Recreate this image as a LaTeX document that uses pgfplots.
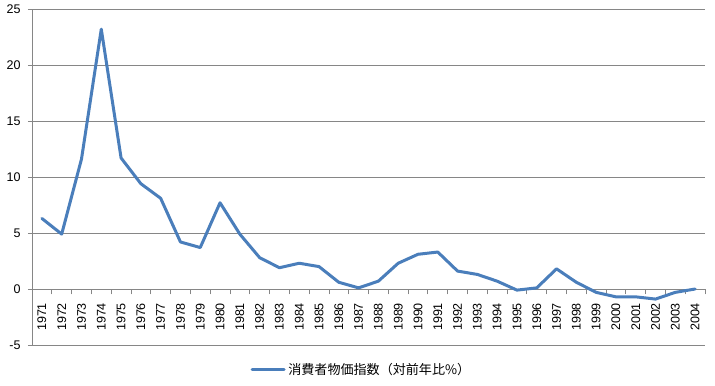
\documentclass[border=0pt]{standalone}
\usepackage{pgfplots}
\pgfplotsset{compat=1.18}
\usepackage{fontspec}
\setmainfont{Liberation Sans}
\newfontfamily\cjk{Noto Sans CJK JP}
\definecolor{linec}{HTML}{4A7EBB}
\definecolor{gridc}{HTML}{868686}
\begin{document}
\begin{tikzpicture}
\useasboundingbox (-24pt,-30.75pt) rectangle (512.25pt,258.75pt);
\begin{axis}[
  at={(0pt,0pt)}, anchor=south west,
  scale only axis,
  width=504.75pt, height=252pt,
  xmin=0.5, xmax=34.5, ymin=-5, ymax=25,
  axis x line*=middle, axis y line*=left,
  axis line style={gridc, line width=0.6pt},
  ytick={-5,0,5,10,15,20,25},
  ymajorgrids, major grid style={gridc, line width=0.6pt},
  xtick={1,...,34},
  xticklabels={1971,1972,1973,1974,1975,1976,1977,1978,1979,1980,1981,1982,1983,1984,1985,1986,1987,1988,1989,1990,1991,1992,1993,1994,1995,1996,1997,1998,1999,2000,2001,2002,2003,2004},
  minor xtick={0.5,1.5,...,34.5},
  major x tick style={draw=none},
  minor x tick style={gridc, line width=0.6pt},
  minor tick length=4pt,
  major tick length=3pt,
  tick align=outside,
  y tick style={gridc, line width=0.6pt},
  /pgf/number format/assume math mode=true,
  tick label style={font=\fontsize{9.4}{11}\selectfont, black},
  xticklabel style={rotate=90, anchor=east, xshift=-4pt},
  yticklabel style={xshift=-2pt},
  legend style={at={(0.49,-0.045)}, anchor=north, draw=none, fill=none,
    font=\cjk\fontsize{9.8}{11}\selectfont, inner sep=0pt},
  legend image code/.code={\draw[linec, line width=2.25pt] (0pt,0pt) -- (24pt,0pt);},
]
\addplot[linec, line width=2.25pt, line join=round, line cap=round] coordinates {
(1,6.3) (2,4.9) (3,11.6) (4,23.2) (5,11.7) (6,9.4) (7,8.1) (8,4.2) (9,3.7) (10,7.7)
(11,4.9) (12,2.8) (13,1.9) (14,2.3) (15,2.0) (16,0.6) (17,0.1) (18,0.7) (19,2.3) (20,3.1)
(21,3.3) (22,1.6) (23,1.3) (24,0.7) (25,-0.1) (26,0.1) (27,1.8) (28,0.6) (29,-0.3) (30,-0.7)
(31,-0.7) (32,-0.9) (33,-0.3) (34,0.0)
};
\addlegendentry{消費者物価指数（対前年比\%）}
\end{axis}
\end{tikzpicture}
\end{document}
